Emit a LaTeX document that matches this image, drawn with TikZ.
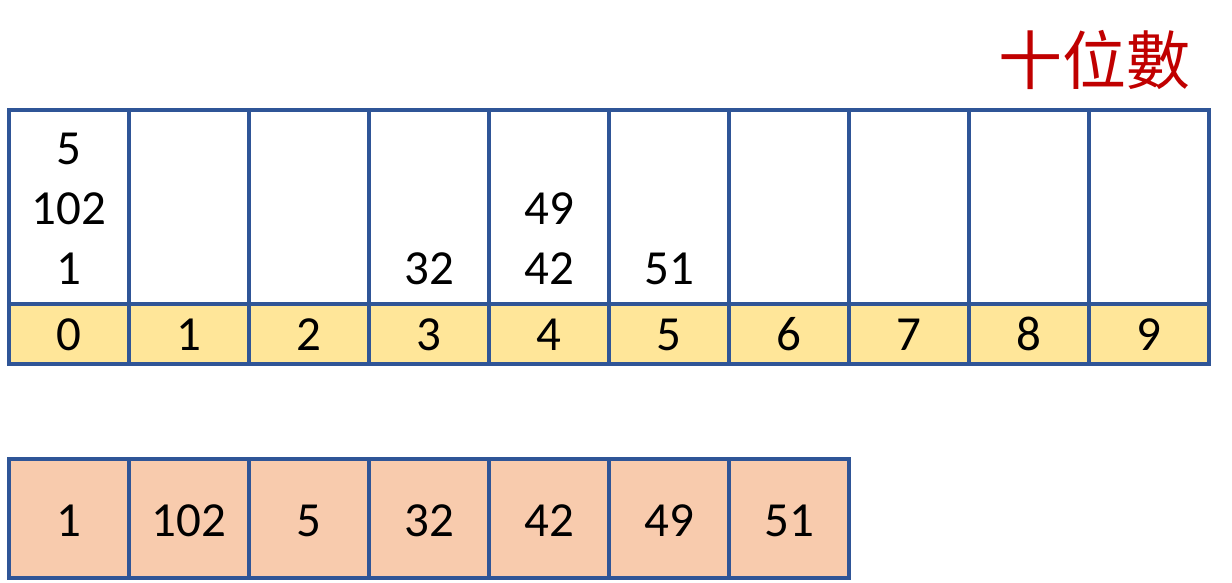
\documentclass[tikz,border=0pt]{standalone}
\usepackage{fontspec}
\setmainfont{Carlito}
\newfontfamily\cjk{Noto Sans CJK TC}
\definecolor{edgeblue}{HTML}{2F5597}
\definecolor{idxfill}{HTML}{FFE699}
\definecolor{outfill}{HTML}{F8CBAD}
\definecolor{titlered}{HTML}{C00000}
\tikzset{
    cell/.style = {draw=edgeblue, line width=4.5pt, inner sep=0pt, minimum width=120pt},
    bucket/.style = {cell, fill=white, minimum height=194pt},
    idx/.style = {cell, fill=idxfill, minimum height=60pt},
    outcell/.style = {cell, fill=outfill, minimum height=119pt},
    num/.style = {anchor=base, inner sep=0pt, font=\fontsize{49}{58}\selectfont}
}
\begin{document}
\begin{tikzpicture}[x=1pt, y=-1pt]
    \useasboundingbox (0,0) rectangle (1232,582);
    % buckets with index row
    \foreach \d in {0,...,9} {
        \node[bucket] (b\d) at (69+120*\d, 207) {};
        \node[idx] (i\d) at (69+120*\d, 334) {};
        \node[num] (n\d) at (69+120*\d, 350) {\d};
    }
    % numbers in the buckets
    \node[num] (v5) at (69, 164) {5};
    \node[num] (v102) at (69, 224) {102};
    \node[num] (v1) at (69, 284) {1};
    \node[num] (v32) at (429, 284) {32};
    \node[num] (v49) at (549, 224) {49};
    \node[num] (v42) at (549, 284) {42};
    \node[num] (v51) at (669, 284) {51};
    % collected list
    \foreach \v [count=\k from 0] in {1,102,5,32,42,49,51} {
        \node[outcell] (o\k) at (69+120*\k, 518.5) {};
        \node[num] (w\k) at (69+120*\k, 536) {\v};
    }
    \node[anchor=base east, inner sep=0pt, text=titlered,
        font=\cjk\fontsize{64}{70}\selectfont] (title) at (1191, 84) {十位數};
\end{tikzpicture}
\end{document}
